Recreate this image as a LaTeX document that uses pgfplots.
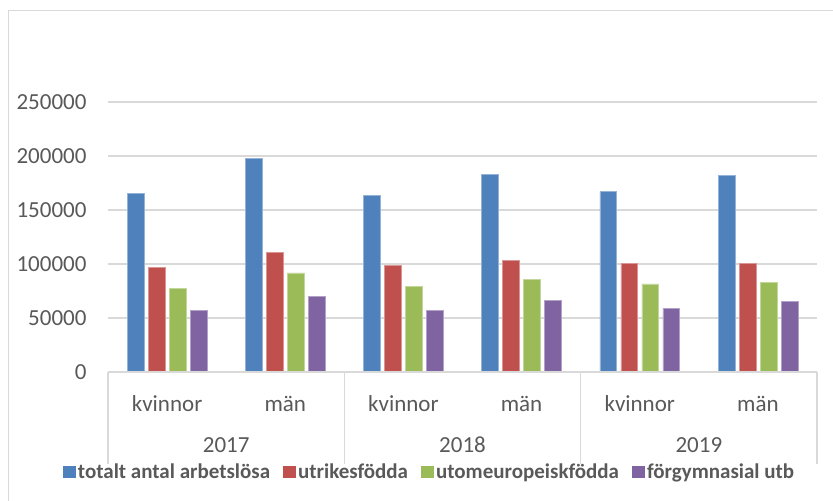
\documentclass[border=0pt]{standalone}
\usepackage{fontspec}
\setmainfont{Carlito}
\usepackage{pgfplots}
\pgfplotsset{compat=1.18}

\definecolor{cblue}{HTML}{4F81BD}
\definecolor{cred}{HTML}{C0504D}
\definecolor{cgreen}{HTML}{9BBB59}
\definecolor{cpurple}{HTML}{8064A2}
\definecolor{cgrid}{HTML}{D9D9D9}
\definecolor{ctext}{HTML}{595959}

\begin{document}
\begin{tikzpicture}
\useasboundingbox (0,0) rectangle (833bp,501bp);
% outer chart frame (only left and top edges visible)
\draw[cgrid, line width=1bp] (8bp,-10bp) -- (8bp,490bp) -- (845bp,490bp);
\begin{axis}[
  at={(108bp,129bp)}, anchor=south west,
  scale only axis,
  width=709bp, height=270bp,
  xmin=-0.5, xmax=5.5,
  ymin=0, ymax=250000,
  axis line style={draw=none},
  clip=false,
  ybar, bar width=0.142,
  ytick={0,50000,100000,150000,200000,250000},
  ymajorgrids,
  major grid style={cgrid, line width=1.5bp},
  major tick length=0pt,
  scaled y ticks=false,
  yticklabel style={/pgf/number format/fixed, /pgf/number format/1000 sep={},
    /pgf/number format/assume math mode=true,
    font=\fontsize{23bp}{28bp}\selectfont, text=ctext, xshift=-18bp},
  xtick={0,1,2,3,4,5},
  xticklabels={kvinnor,män,kvinnor,män,kvinnor,män},
  xticklabel style={font=\fontsize{23bp}{28bp}\selectfont, text=ctext, anchor=center, yshift=-32bp},
  legend columns=4,
  legend style={at={(rel axis cs:0.4535,-0.37)}, anchor=center, draw=none, fill=none,
    font=\bfseries\fontsize{21bp}{24bp}\selectfont, text=ctext,
    /tikz/every even column/.append style={column sep=11bp},
    nodes={inner sep=2bp}},
  legend image code/.code={\draw[#1,draw=none] (0bp,-6bp) rectangle (13bp,6bp);},
]
\addplot[fill=cblue, draw=cblue!60!white, line width=0.6bp, bar shift=-0.2665] coordinates
  {(0,165000) (1,198000) (2,163300) (3,183300) (4,167000) (5,182100)};
\addplot[fill=cred, draw=cred!60!white, line width=0.6bp, bar shift=-0.0888] coordinates
  {(0,97000) (1,110800) (2,98400) (3,103700) (4,100300) (5,100900)};
\addplot[fill=cgreen, draw=cgreen!60!white, line width=0.6bp, bar shift=0.0888] coordinates
  {(0,77500) (1,91700) (2,79600) (3,86100) (4,81500) (5,83000)};
\addplot[fill=cpurple, draw=cpurple!60!white, line width=0.6bp, bar shift=0.2665] coordinates
  {(0,57000) (1,70300) (2,57400) (3,66400) (4,59000) (5,65700)};
\legend{totalt antal arbetslösa,utrikesfödda,utomeuropeiskfödda,förgymnasial utb}

% category axis line and group separators
\draw[cgrid, line width=1.5bp] (axis cs:-0.5,0) -- (axis cs:5.5,0);
\draw[cgrid, line width=1.5bp] (axis cs:-0.5,0) -- ([yshift=-92bp]axis cs:-0.5,0);
\draw[cgrid, line width=1.5bp] (axis cs:1.5,0) -- ([yshift=-92bp]axis cs:1.5,0);
\draw[cgrid, line width=1.5bp] (axis cs:3.5,0) -- ([yshift=-92bp]axis cs:3.5,0);
\draw[cgrid, line width=1.5bp] (axis cs:5.5,0) -- ([yshift=-92bp]axis cs:5.5,0);
\node[font=\fontsize{23bp}{28bp}\selectfont, text=ctext] at (axis cs:0.5,0) [yshift=-73bp] {2017};
\node[font=\fontsize{23bp}{28bp}\selectfont, text=ctext] at (axis cs:2.5,0) [yshift=-73bp] {2018};
\node[font=\fontsize{23bp}{28bp}\selectfont, text=ctext] at (axis cs:4.5,0) [yshift=-73bp] {2019};
\end{axis}
\end{tikzpicture}
\end{document}
